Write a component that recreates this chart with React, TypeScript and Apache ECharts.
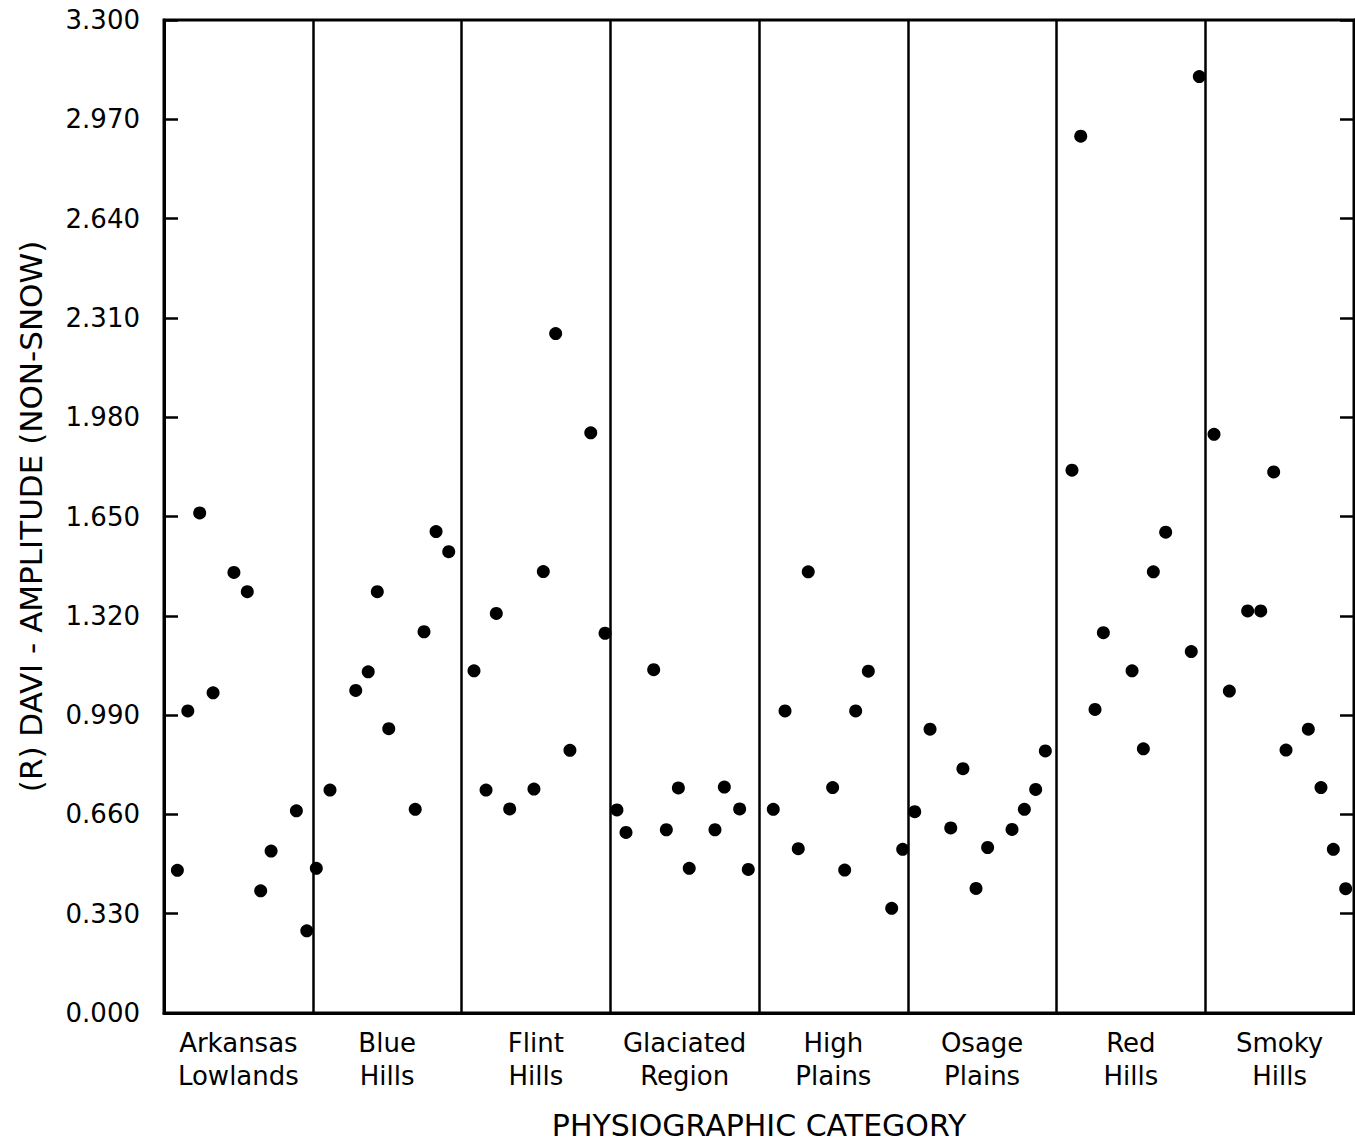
import React, { useEffect, useRef } from "react";
import * as echarts from "echarts";

// Category labels (bottom axis)
const categories = [
  "Arkansas\nLowlands",
  "Blue\nHills",
  "Flint\nHills",
  "Glaciated\nRegion",
  "High\nPlains",
  "Osage\nPlains",
  "Red\nHills",
  "Smoky\nHills",
];

// Horizontal position of each point inside its category band (0..1)
const arkansasOffsets = [0.09, 0.16, 0.24, 0.33, 0.47, 0.56, 0.65, 0.72, 0.89, 0.96];
const arkansasValues = [0.474, 1.004, 1.662, 1.064, 1.464, 1.4, 0.406, 0.538, 0.672, 0.273];

const blueOffsets = [0.024, 0.116, 0.289, 0.373, 0.434, 0.511, 0.689, 0.748, 0.829, 0.914];
const blueValues = [0.481, 0.741, 1.072, 1.134, 1.4, 0.945, 0.677, 1.267, 1.6, 1.533];

const flintOffsets = [0.084, 0.165, 0.234, 0.324, 0.487, 0.55, 0.633, 0.729, 0.869, 0.965];
const flintValues = [1.137, 0.741, 1.328, 0.678, 0.744, 1.467, 2.258, 0.873, 1.928, 1.262];

const glaciatedOffsets = [0.045, 0.106, 0.292, 0.377, 0.458, 0.531, 0.704, 0.767, 0.87, 0.928];
const glaciatedValues = [0.675, 0.6, 1.141, 0.609, 0.748, 0.481, 0.609, 0.751, 0.678, 0.477];

const highOffsets = [0.096, 0.175, 0.264, 0.331, 0.495, 0.576, 0.65, 0.735, 0.892, 0.966];
const highValues = [0.677, 1.004, 0.546, 1.466, 0.749, 0.475, 1.004, 1.136, 0.348, 0.544];

const osageOffsets = [0.047, 0.15, 0.289, 0.371, 0.459, 0.537, 0.701, 0.784, 0.86, 0.925];
const osageValues = [0.669, 0.943, 0.615, 0.812, 0.414, 0.55, 0.61, 0.677, 0.743, 0.871];

const redOffsets = [0.104, 0.163, 0.259, 0.315, 0.508, 0.584, 0.651, 0.734, 0.906, 0.96];
const redValues = [1.804, 2.914, 1.009, 1.264, 1.137, 0.878, 1.466, 1.598, 1.201, 3.112];

const smokyOffsets = [0.059, 0.162, 0.285, 0.373, 0.46, 0.543, 0.693, 0.778, 0.861, 0.944];
const smokyValues = [1.923, 1.07, 1.336, 1.336, 1.798, 0.874, 0.943, 0.749, 0.544, 0.413];

const groupOffsets = [
  arkansasOffsets,
  blueOffsets,
  flintOffsets,
  glaciatedOffsets,
  highOffsets,
  osageOffsets,
  redOffsets,
  smokyOffsets,
];
const groupValues = [
  arkansasValues,
  blueValues,
  flintValues,
  glaciatedValues,
  highValues,
  osageValues,
  redValues,
  smokyValues,
];

const yMin = 0;
const yMax = 3.3;
const yStep = 0.33;

const FONT = "DejaVu Sans";

export default function App() {
  const ref = useRef<HTMLDivElement>(null);

  useEffect(() => {
    if (!ref.current) return;
    const chart = echarts.init(ref.current, undefined, { renderer: "svg" });

    const points: number[][] = [];
    groupValues.forEach((vals, i) => {
      vals.forEach((v, j) => {
        points.push([i + groupOffsets[i][j], v]);
      });
    });

    const yCommon = {
      type: "value" as const,
      min: yMin,
      max: yMax,
      interval: yStep,
      splitLine: { show: false },
      axisLine: { show: true, lineStyle: { color: "#000", width: 3 } },
      axisTick: { show: true, inside: true, length: 14, lineStyle: { color: "#000", width: 2.5 } },
    };

    chart.setOption({
      animation: false,
      backgroundColor: "#fff",
      grid: {
        left: 164,
        right: 1,
        top: 20,
        bottom: 132,
        show: true,
        borderColor: "#000",
        borderWidth: 3,
        backgroundColor: "transparent",
      },
      xAxis: [
        {
          type: "value",
          min: 0,
          max: categories.length,
          interval: 1,
          position: "bottom",
          axisLine: { show: true, lineStyle: { color: "#000", width: 3 } },
          axisTick: { show: false },
          axisLabel: { show: false },
          splitLine: { show: true, lineStyle: { color: "#000", width: 2.5 } },
        },
        {
          type: "category",
          data: categories,
          position: "bottom",
          boundaryGap: true,
          axisLine: { show: false },
          axisTick: { show: false },
          splitLine: { show: false },
          axisLabel: {
            color: "#000",
            fontSize: 26,
            fontFamily: FONT,
            lineHeight: 33,
            margin: 13,
            interval: 0,
          },
          name: "PHYSIOGRAPHIC CATEGORY",
          nameLocation: "middle",
          nameGap: 97,
          nameTextStyle: { color: "#000", fontSize: 30, fontFamily: FONT },
        },
      ],
      yAxis: [
        {
          ...yCommon,
          position: "left",
          axisLabel: {
            color: "#000",
            fontSize: 26,
            fontFamily: FONT,
            margin: 24,
            formatter: (v: number) => v.toFixed(3),
          },
          name: "(R) DAVI - AMPLITUDE (NON-SNOW)",
          nameLocation: "middle",
          nameGap: 118,
          nameRotate: 90,
          nameTextStyle: { color: "#000", fontSize: 31, fontFamily: FONT },
        },
        {
          ...yCommon,
          position: "right",
          axisLabel: { show: false },
        },
      ],
      series: [
        {
          type: "scatter",
          xAxisIndex: 0,
          yAxisIndex: 0,
          data: points,
          symbol: "circle",
          symbolSize: 13,
          itemStyle: { color: "#000", opacity: 1 },
        },
      ],
    });

    return () => chart.dispose();
  }, []);

  return (
    <div
      ref={ref}
      style={{ position: "absolute", left: 0, top: 0, width: 1355, height: 1145, background: "#fff" }}
    />
  );
}
